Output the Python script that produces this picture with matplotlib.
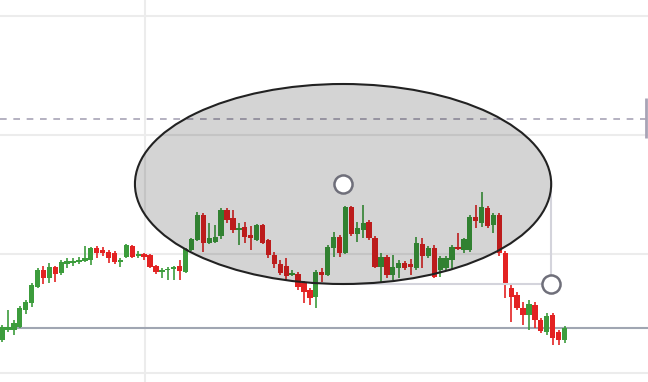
import numpy as np
import matplotlib.pyplot as plt
from matplotlib.patches import Ellipse

# OHLC values (arbitrary price units)
opens = [60, 70, 70, 73, 90, 97, 113, 130, 122, 133, 127, 136, 137, 138, 139, 140,
         152, 150, 148, 147, 138, 143, 154, 144, 146, 145, 134, 128, 130, 131, 134, 128,
         150, 160, 185, 157, 158, 164, 190, 182, 170, 173, 165, 160, 175, 160, 145, 136,
         134, 125, 126, 117, 110, 103, 128, 125, 152, 163, 147, 193, 166, 170, 178, 162,
         133, 143, 125, 132, 137, 136, 132, 156, 144, 152, 130, 132, 140, 153, 150, 150,
         183, 177, 192, 175, 185, 147, 112, 105, 92, 85, 95, 80, 68, 85, 68, 60]
closes = [73, 73, 77, 92, 98, 115, 130, 122, 133, 126, 138, 139, 139, 140, 142, 152,
          147, 147, 142, 138, 140, 155, 143, 146, 143, 133, 128, 130, 131, 133, 129, 151,
          161, 185, 157, 162, 163, 190, 180, 170, 172, 163, 162, 175, 157, 145, 136, 127,
          124, 127, 113, 108, 102, 128, 125, 153, 163, 147, 193, 166, 172, 177, 162, 133,
          143, 125, 133, 137, 132, 133, 157, 144, 152, 123, 142, 142, 153, 151, 161, 183,
          179, 193, 174, 185, 147, 115, 103, 92, 85, 96, 80, 69, 84, 62, 60, 72]
highs = [75, 90, 80, 94, 100, 117, 132, 134, 137, 134, 140, 142, 142, 143, 154, 153,
         154, 153, 150, 149, 142, 156, 155, 149, 147, 146, 135, 132, 133, 134, 140, 152,
         162, 188, 187, 177, 175, 192, 192, 190, 177, 178, 174, 176, 176, 161, 148, 140,
         142, 130, 128, 119, 112, 130, 132, 155, 168, 165, 194, 194, 178, 195, 180, 164,
         147, 145, 145, 140, 139, 141, 163, 162, 154, 155, 144, 144, 155, 167, 162, 185,
         195, 208, 194, 187, 187, 149, 115, 108, 98, 100, 98, 82, 87, 87, 70, 74]
lows = [58, 68, 65, 72, 86, 93, 112, 116, 117, 118, 125, 132, 134, 136, 138, 135,
        142, 144, 137, 136, 133, 142, 142, 142, 140, 132, 126, 122, 120, 120, 120, 127,
        149, 159, 148, 156, 157, 161, 177, 167, 155, 157, 150, 159, 156, 142, 132, 125,
        120, 124, 110, 97, 95, 92, 118, 124, 143, 143, 146, 164, 158, 162, 160, 132,
        118, 122, 120, 122, 130, 125, 130, 132, 142, 122, 123, 130, 130, 150, 147, 148,
        172, 173, 172, 167, 144, 102, 78, 90, 75, 70, 72, 67, 65, 55, 55, 57]

hline_dashed = 281
hline_solid = 72
ellipse_center = (57.6, 216)
ellipse_size = (70.3, 200)
corner_handle = (92.7, 116)

GREEN = '#3c9c3c'
RED = '#e32222'

o = np.array(opens)
c = np.array(closes)
h = np.array(highs)
l = np.array(lows)
x = np.arange(len(o))
up = c >= o
colors = np.where(up, GREEN, RED)

fig = plt.figure(figsize=(6.48, 3.82), dpi=100)
ax = fig.add_axes([0, 0, 1, 1])
ax.set_xlim(-0.34, 109.1)
ax.set_ylim(18, 400)

# grid
for gy in [384, 265, 146, 27]:
    ax.axhline(gy, color='#ececec', lw=1.5, zorder=0)
ax.axvline(24.16, color='#ececec', lw=1.5, zorder=0)

ax.axhline(hline_dashed, color='#a8a4b6', lw=1.2, ls=(0, (4, 4)), zorder=1)
ax.axhline(hline_solid, color='#a0a6b2', lw=1.5, zorder=1)
ax.vlines(108.8, 262, 302, color='#a8a4b6', lw=2, zorder=1)

# candles
ax.vlines(x, l, h, colors=colors, lw=1.2, zorder=2)
body = np.maximum(np.abs(c - o), 1.5)
ax.bar(x, body, bottom=np.minimum(o, c), width=0.9, color=colors, zorder=3)

# ellipse annotation
ell = Ellipse(ellipse_center, ellipse_size[0], ellipse_size[1],
              facecolor=(0, 0, 0, 0.17), edgecolor='#222222', lw=1.5, zorder=5)
ax.add_patch(ell)
ax.plot([ellipse_center[0], corner_handle[0], corner_handle[0]],
        [corner_handle[1], corner_handle[1], ellipse_center[1]],
        color='#d4d4dc', lw=1.5, zorder=4)
ax.scatter([ellipse_center[0], corner_handle[0]], [ellipse_center[1], corner_handle[1]],
           s=170, facecolor='white', edgecolor='#6f6f7a', linewidths=1.8, zorder=6)

ax.axis('off')
fig.savefig('out.png', dpi=100)
